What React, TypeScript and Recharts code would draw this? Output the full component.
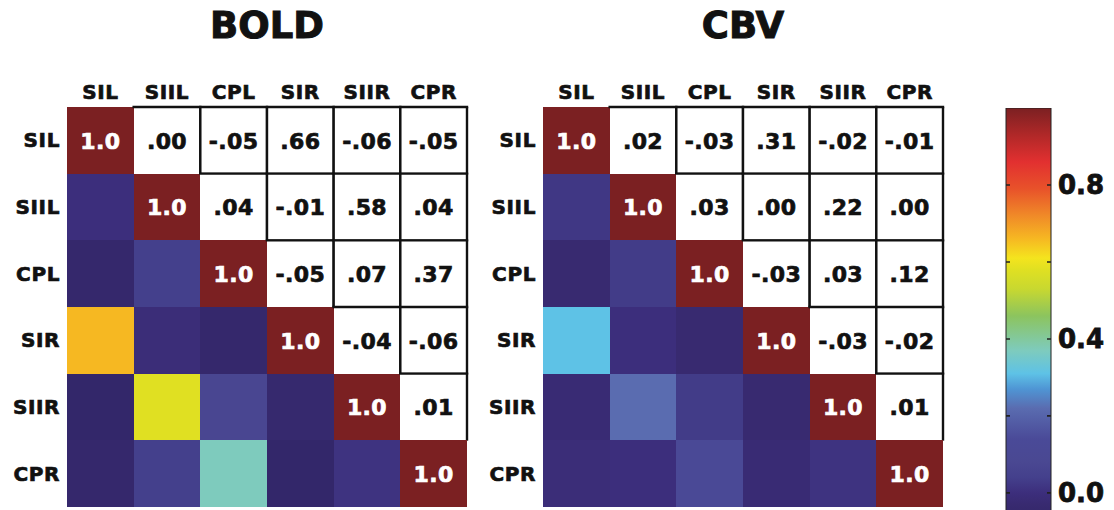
import { Bar, BarChart, Label, ReferenceLine, XAxis, YAxis } from "recharts";

const REGIONS = ["SIL", "SIIL", "CPL", "SIR", "SIIR", "CPR"];

// BOLD correlation matrix, one array per row region
const BOLD_SIL = [1.0, 0.0, -0.05, 0.66, -0.06, -0.05];
const BOLD_SIIL = [0.0, 1.0, 0.04, -0.01, 0.58, 0.04];
const BOLD_CPL = [-0.05, 0.04, 1.0, -0.05, 0.07, 0.37];
const BOLD_SIR = [0.66, -0.01, -0.05, 1.0, -0.04, -0.06];
const BOLD_SIIR = [-0.06, 0.58, 0.07, -0.04, 1.0, 0.01];
const BOLD_CPR = [-0.05, 0.04, 0.37, -0.06, 0.01, 1.0];

// CBV correlation matrix
const CBV_SIL = [1.0, 0.02, -0.03, 0.31, -0.02, -0.01];
const CBV_SIIL = [0.02, 1.0, 0.03, 0.0, 0.22, 0.0];
const CBV_CPL = [-0.03, 0.03, 1.0, -0.03, 0.03, 0.12];
const CBV_SIR = [0.31, 0.0, -0.03, 1.0, -0.03, -0.02];
const CBV_SIIR = [-0.02, 0.22, 0.03, -0.03, 1.0, 0.01];
const CBV_CPR = [-0.01, 0.0, 0.12, -0.02, 0.01, 1.0];

const BOLD = [BOLD_SIL, BOLD_SIIL, BOLD_CPL, BOLD_SIR, BOLD_SIIR, BOLD_CPR];
const CBV = [CBV_SIL, CBV_SIIL, CBV_CPL, CBV_SIR, CBV_SIIR, CBV_CPR];

const SCALE_MIN = -0.06;
const SCALE_MAX = 1.0;
const SCALE_LABELS = [0, 0.4, 0.8];
const SCALE_MARKS = [0, 0.2, 0.4, 0.6, 0.8];

// jet-like colormap sampled off the colour bar
const COLOR_STOPS: [number, string][] = [
  [-0.06, "#33276a"],
  [-0.03, "#382a70"],
  [0.0, "#3c2e7c"],
  [0.04, "#44408c"],
  [0.08, "#4a4892"],
  [0.14, "#4a4a98"],
  [0.22, "#5a6cb0"],
  [0.27, "#4f95d4"],
  [0.31, "#5ec2e6"],
  [0.37, "#7ecbbd"],
  [0.46, "#8cc45e"],
  [0.53, "#c8d830"],
  [0.58, "#e0e022"],
  [0.61, "#f4e41e"],
  [0.66, "#f6b822"],
  [0.72, "#f08a28"],
  [0.79, "#e8522a"],
  [0.86, "#e23030"],
  [0.93, "#b02828"],
  [1.0, "#7b2022"],
];

const FONT = "DejaVu Sans";

function hexToRgb(h: string) {
  const n = parseInt(h.slice(1), 16);
  return [(n >> 16) & 255, (n >> 8) & 255, n & 255];
}

function colorFor(v: number) {
  if (v <= COLOR_STOPS[0][0]) return COLOR_STOPS[0][1];
  for (let k = 1; k < COLOR_STOPS.length; k++) {
    const [v1, c1] = COLOR_STOPS[k];
    if (v <= v1) {
      const [v0, c0] = COLOR_STOPS[k - 1];
      const t = (v - v0) / (v1 - v0);
      const a = hexToRgb(c0);
      const b = hexToRgb(c1);
      const m = a.map((x, i) => Math.round(x + (b[i] - x) * t));
      return `rgb(${m[0]},${m[1]},${m[2]})`;
    }
  }
  return COLOR_STOPS[COLOR_STOPS.length - 1][1];
}

function fmt(v: number) {
  if (v === 1) return "1.0";
  return v.toFixed(2).replace("0.", ".");
}

const rows = REGIONS.map((name, i) => {
  const r: Record<string, string | number> = { name, row: i };
  REGIONS.forEach((_, j) => (r[`c${j}`] = 1));
  return r;
});

function cellShape(matrix: number[][], col: number) {
  return (props: any) => {
    const { x, y, width, height, payload } = props;
    const row = payload.row as number;
    const v = matrix[row][col];
    const upper = col > row;
    const diag = col === row;
    const fill = upper ? "#ffffff" : colorFor(diag ? 1 : v);
    const cx = x + width / 2;
    const cy = y + height / 2;
    const line = { stroke: "#111", strokeWidth: 2.4 };
    const ink = diag ? "#ffffff" : "#111";
    return (
      <g>
        <rect x={x} y={y} width={width} height={height} fill={fill} shapeRendering="crispEdges" />
        {upper && <line x1={x - 1.2} y1={y} x2={x + width + 1.2} y2={y} {...line} />}
        {upper && <line x1={x + width} y1={y} x2={x + width} y2={y + height} {...line} />}
        {upper && col - 1 > row && <line x1={x} y1={y} x2={x} y2={y + height} {...line} />}
        {upper && row + 1 < col && <line x1={x} y1={y + height} x2={x + width} y2={y + height} {...line} />}
        {(upper || diag) && (
          <text
            x={cx}
            y={cy + 8}
            textAnchor="middle"
            fontFamily={FONT}
            fontWeight={700}
            fontSize={22}
            fill={ink}
            stroke={ink}
            strokeWidth={0.7}
            letterSpacing={0.4}
          >
            {fmt(v)}
          </text>
        )}
      </g>
    );
  };
}

const axisFont = {
  fontFamily: FONT,
  fontWeight: 700,
  fontSize: 20,
  fill: "#111",
  stroke: "#111",
  strokeWidth: 0.7,
  letterSpacing: 0.6,
};

function Heatmap({ title, matrix, left }: { title: string; matrix: number[][]; left: number }) {
  return (
    <div style={{ position: "absolute", left, top: 0 }}>
      <BarChart
        width={480}
        height={510}
        data={rows}
        layout="vertical"
        margin={{ top: 0, right: 13, bottom: 3, left: 0 }}
        barCategoryGap={0}
        barGap={0}
      >
        <XAxis
          type="number"
          orientation="top"
          domain={[0, 6]}
          ticks={[0.5, 1.5, 2.5, 3.5, 4.5, 5.5]}
          tickFormatter={(t: number) => REGIONS[Math.floor(t)]}
          height={107}
          axisLine={false}
          tickLine={false}
          tickSize={0}
          tickMargin={8}
          tick={axisFont}
          interval={0}
        >
          <Label
            value={title}
            position="insideTop"
            offset={12}
            fontFamily={FONT}
            fontWeight={700}
            fontSize={37}
            fill="#111"
            stroke="#111"
            strokeWidth={1}
          />
        </XAxis>
        <YAxis
          type="category"
          dataKey="name"
          width={67}
          axisLine={false}
          tickLine={false}
          tickSize={0}
          tickMargin={7}
          tick={axisFont}
          interval={0}
        />
        {REGIONS.map((_, j) => (
          <Bar
            key={j}
            dataKey={`c${j}`}
            stackId="grid"
            shape={cellShape(matrix, j)}
            isAnimationActive={false}
          />
        ))}
      </BarChart>
    </div>
  );
}

const scaleData = [{ name: "scale", span: [SCALE_MIN, SCALE_MAX] }];

function ColorBar() {
  const span = SCALE_MAX - SCALE_MIN;
  // gradient stops must run top (1.0) to bottom (min)
  const stops = [...COLOR_STOPS].reverse();
  return (
    <div style={{ position: "absolute", left: 960, top: 0 }}>
      <BarChart
        width={154}
        height={520}
        data={scaleData}
        margin={{ top: 108, right: 0, bottom: 4, left: 46 }}
        barCategoryGap={0}
      >
        <defs>
          <linearGradient id="scaleGrad" x1="0" y1="0" x2="0" y2="1">
            {stops.map(([v, c]) => (
              <stop key={v} offset={(SCALE_MAX - v) / span} stopColor={c} />
            ))}
          </linearGradient>
        </defs>
        <XAxis dataKey="name" hide />
        <YAxis
          orientation="right"
          type="number"
          domain={[SCALE_MIN, SCALE_MAX]}
          allowDataOverflow
          ticks={SCALE_LABELS}
          tickFormatter={(t: number) => t.toFixed(1)}
          width={63}
          axisLine={false}
          tickLine={false}
          tickSize={0}
          tickMargin={7}
          tick={{ fontFamily: FONT, fontWeight: 700, fontSize: 26, fill: "#111", stroke: "#111", strokeWidth: 0.8 }}
        />
        <Bar
          dataKey="span"
          fill="url(#scaleGrad)"
          stroke="#222"
          strokeWidth={1}
          isAnimationActive={false}
        />
        {/* short inward tick marks on both edges of the bar */}
        {SCALE_MARKS.map((m) => (
          <ReferenceLine key={m} y={m} stroke="#222" strokeWidth={1.6} strokeDasharray="4 37 4" />
        ))}
      </BarChart>
    </div>
  );
}

export default function App() {
  return (
    <div
      style={{
        position: "fixed",
        left: 0,
        top: 0,
        width: 1114,
        height: 510,
        overflow: "hidden",
        background: "#ffffff",
        fontFamily: FONT,
      }}
    >
      <Heatmap title="BOLD" matrix={BOLD} left={0} />
      <Heatmap title="CBV" matrix={CBV} left={476} />
      <ColorBar />
    </div>
  );
}
